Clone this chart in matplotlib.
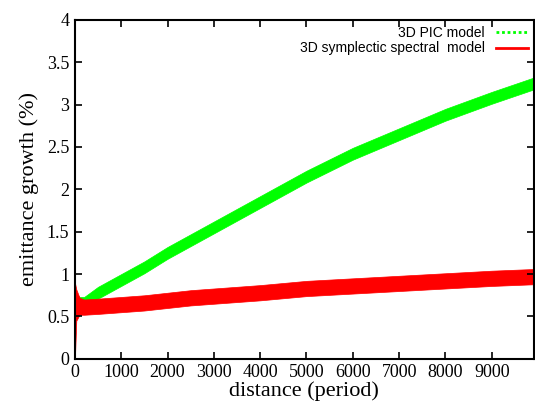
import numpy as np
import matplotlib.pyplot as plt

# distance (period) sample points
dist = [0, 30, 100, 200, 500, 1000, 1500, 2000, 2500, 3000, 4000, 5000, 6000, 7000, 8000, 9000, 9910]

# 3D PIC model (green band: lower / upper edge)
pic_lo = [0.60, 0.60, 0.63, 0.63, 0.71, 0.86, 1.01, 1.18, 1.33, 1.48, 1.78, 2.08, 2.35, 2.58, 2.81, 3.01, 3.18]
pic_hi = [0.78, 0.76, 0.73, 0.73, 0.85, 1.00, 1.15, 1.32, 1.47, 1.62, 1.92, 2.22, 2.49, 2.72, 2.95, 3.15, 3.32]

# 3D symplectic spectral model (red band: lower / upper edge)
sym_lo = [0.00, 0.45, 0.52, 0.52, 0.53, 0.55, 0.57, 0.60, 0.63, 0.65, 0.69, 0.74, 0.77, 0.80, 0.83, 0.86, 0.88]
sym_hi = [0.90, 0.82, 0.72, 0.70, 0.71, 0.73, 0.75, 0.78, 0.81, 0.83, 0.87, 0.92, 0.95, 0.98, 1.01, 1.04, 1.06]

xticks = [0, 1000, 2000, 3000, 4000, 5000, 6000, 7000, 8000, 9000]
yticks = [0, 0.5, 1, 1.5, 2, 2.5, 3, 3.5, 4]
ylabels = ["0", "0.5", "1", "1.5", "2", "2.5", "3", "3.5", "4"]

serif = "Liberation Serif"
sans = "Liberation Sans"

fig = plt.figure(figsize=(5.35, 4.05), dpi=100)
ax = fig.add_axes([0.140, 0.114, 0.858, 0.837])

ax.fill_between(dist, pic_lo, pic_hi, color="#00ff00", lw=0.5)
ax.fill_between(dist, sym_lo, sym_hi, color="#ff0000", lw=0.5)

# legend proxies
ax.plot([], [], color="#00ff00", lw=2, ls=(0, (1.0, 1.0)), label="3D PIC model")
ax.plot([], [], color="#ff0000", lw=2, label="3D symplectic spectral  model")

ax.set_xlim(0, 9910)
ax.set_ylim(0, 4)
ax.set_xticks(xticks)
ax.set_xticklabels([str(t) for t in xticks], fontfamily=serif, fontsize=13)
ax.set_yticks(yticks)
ax.set_yticklabels(ylabels, fontfamily=serif, fontsize=13)
ax.tick_params(direction="in", length=5, width=1.2, top=True, right=True, pad=4)
for s in ax.spines.values():
    s.set_linewidth(1.5)

ax.set_xlabel("distance (period)", fontfamily=serif, fontsize=16, labelpad=0)
ax.set_ylabel("emittance growth (%)", fontfamily=serif, fontsize=16, labelpad=6)

leg = ax.legend(loc="upper right", frameon=False, markerfirst=False,
                prop={"family": sans, "size": 10}, handlelength=2.3,
                handletextpad=0.8, labelspacing=0.1, borderaxespad=0.05)

fig.savefig("out.png", dpi=100)
